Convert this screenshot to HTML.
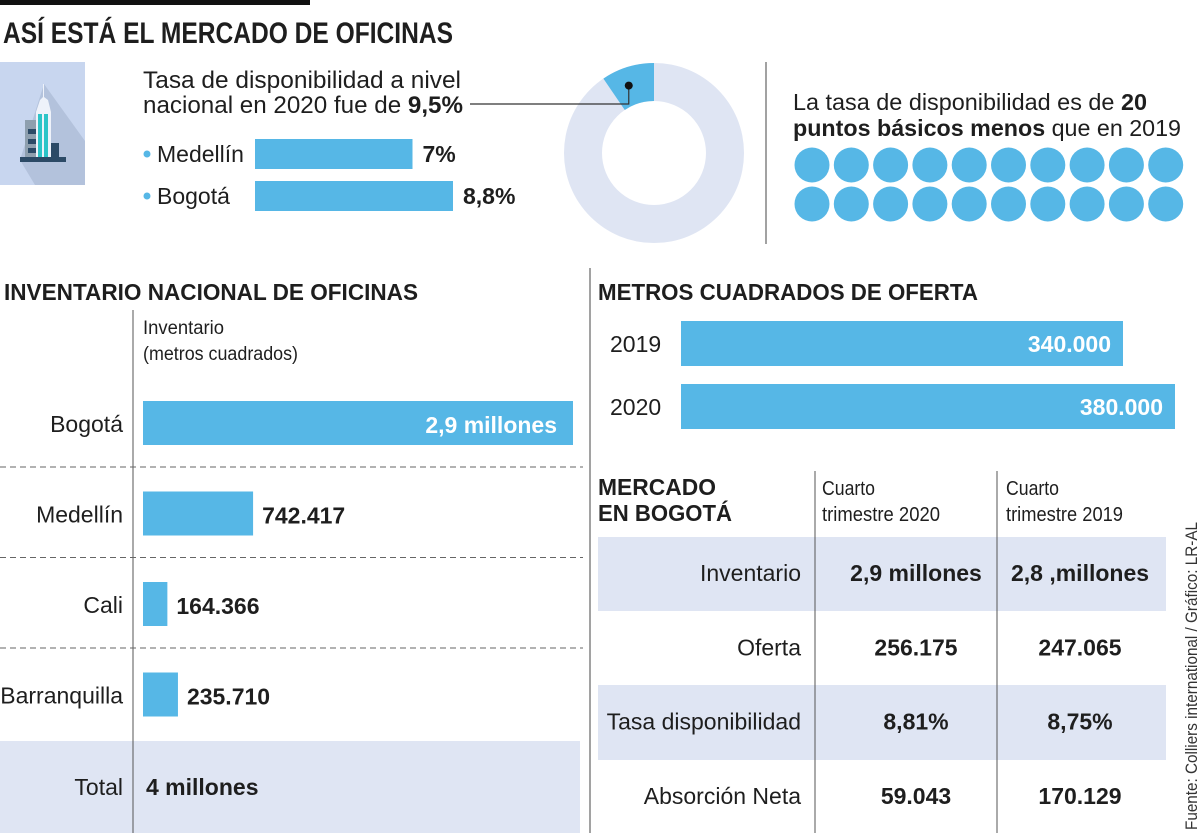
<!DOCTYPE html>
<html><head><meta charset="utf-8">
<style>
html,body{margin:0;padding:0;background:#fff;}
svg{display:block;}
text{font-family:"Liberation Sans Narrow","Liberation Sans",sans-serif;fill:#1e1e1e;}
.b{font-weight:bold;}
.l{font-family:"Liberation Sans","DejaVu Sans",sans-serif;}
</style></head>
<body>
<svg id="chart" width="1200" height="833" viewBox="0 0 1200 833" xmlns="http://www.w3.org/2000/svg">
<rect x="0" y="0" width="310" height="5" fill="#111"/>
<text x="3" y="43" font-size="30" class="b" textLength="450" lengthAdjust="spacingAndGlyphs">ASÍ ESTÁ EL MERCADO DE OFICINAS</text>

<g>
<rect x="0" y="62" width="85" height="123" fill="#c8d6ef"/>
<polygon points="44,84 85,141 85,185 35,185 20,160" fill="#b3c2dc"/>
<rect x="25" y="120" width="12" height="37" fill="#8e9fae"/>
<rect x="28" y="129" width="9" height="5" fill="#2c4a66"/>
<rect x="28" y="139" width="9" height="5" fill="#2c4a66"/>
<rect x="28" y="148" width="9" height="5" fill="#2c4a66"/>
<rect x="50" y="143" width="9" height="14" fill="#2c4a66"/>
<polygon points="36,112 40,100 43,97 43,84 44,84 44,97 48,100 51,112" fill="#eef2fa"/>
<rect x="36" y="112" width="15" height="45" fill="#eef2fa"/>
<rect x="38" y="114" width="4" height="43" fill="#2cc4c8"/>
<rect x="44" y="114" width="4" height="43" fill="#2cc4c8"/>
<rect x="20" y="157" width="46" height="5" fill="#2c4a66"/>
</g>

<text x="143" y="88" font-size="24" textLength="318" lengthAdjust="spacingAndGlyphs">Tasa de disponibilidad a nivel</text>
<text x="143" y="113" font-size="24" textLength="320" lengthAdjust="spacingAndGlyphs">nacional en 2020 fue de <tspan class="b">9,5%</tspan></text>
<g id="cityRates"></g>

<g id="donut"></g>
<line x1="766" y1="62" x2="766" y2="244" stroke="#444" stroke-width="1"/>
<text x="793" y="110" font-size="23" textLength="354" lengthAdjust="spacingAndGlyphs">La tasa de disponibilidad es de <tspan class="b">20</tspan></text>
<text x="793" y="136" font-size="23" textLength="388" lengthAdjust="spacingAndGlyphs"><tspan class="b">puntos básicos menos</tspan> que en 2019</text>
<g id="dots"></g>

<text x="4" y="300" font-size="23" class="b" textLength="414" lengthAdjust="spacingAndGlyphs">INVENTARIO NACIONAL DE OFICINAS</text>
<rect x="0" y="741" width="580" height="92" fill="#dfe5f3"/>
<line x1="133" y1="310" x2="133" y2="833" stroke="#555" stroke-width="1"/>
<text x="143" y="334" font-size="19" textLength="81" lengthAdjust="spacingAndGlyphs">Inventario</text>
<text x="143" y="360" font-size="19" textLength="155" lengthAdjust="spacingAndGlyphs">(metros cuadrados)</text>
<g id="inv"></g>
<text x="123" y="795" font-size="23" text-anchor="end">Total</text>
<text x="146" y="795" font-size="23" class="b">4 millones</text>

<line x1="590" y1="268" x2="590" y2="833" stroke="#444" stroke-width="1"/>
<text x="598" y="300" font-size="23" class="b" textLength="380" lengthAdjust="spacingAndGlyphs">METROS CUADRADOS DE OFERTA</text>
<g id="offer"></g>

<g>
<rect x="598" y="537" width="568" height="74" fill="#dfe5f3"/>
<rect x="598" y="685" width="568" height="75" fill="#dfe5f3"/>
<line x1="815" y1="471" x2="815" y2="833" stroke="#555"/>
<line x1="997" y1="471" x2="997" y2="833" stroke="#555"/>
<text x="598" y="495" font-size="23" class="b" textLength="118" lengthAdjust="spacingAndGlyphs">MERCADO</text>
<text x="598" y="521" font-size="23" class="b" textLength="134" lengthAdjust="spacingAndGlyphs">EN BOGOTÁ</text>
<text x="822" y="495" font-size="20" textLength="53" lengthAdjust="spacingAndGlyphs">Cuarto</text>
<text x="822" y="521" font-size="20" textLength="118" lengthAdjust="spacingAndGlyphs">trimestre 2020</text>
<text x="1006" y="495" font-size="20" textLength="53" lengthAdjust="spacingAndGlyphs">Cuarto</text>
<text x="1006" y="521" font-size="20" textLength="117" lengthAdjust="spacingAndGlyphs">trimestre 2019</text>
<g id="tbl"></g>
</g>
<text transform="translate(1197,830) rotate(-90)" font-size="17" class="l" textLength="308" lengthAdjust="spacingAndGlyphs" style="fill:#333">Fuente: Colliers international / Gráfico: LR-AL</text>
</svg>
<script>
const NS="http://www.w3.org/2000/svg";
const cityNames=["Medellín","Bogotá"];
const cityRates=[7,8.8];
const cityRateLabels=["7%","8,8%"];
const nationalRate=9.5;
const basisPoints=20;
const invCities=["Bogotá","Medellín","Cali","Barranquilla"];
const invValues=[2900000,742417,164366,235710];
const invLabels=["2,9 millones","742.417","164.366","235.710"];
const offerYears=["2019","2020"];
const offerValues=[340000,380000];
const offerLabels=["340.000","380.000"];
const tblRows=["Inventario","Oferta","Tasa disponibilidad","Absorción Neta"];
const tbl2020=["2,9 millones","256.175","8,81%","59.043"];
const tbl2019=["2,8 ,millones","247.065","8,75%","170.129"];

function mk(tag,attrs,parent,txt){const e=document.createElementNS(NS,tag);for(const k in attrs)e.setAttribute(k,attrs[k]);if(txt!==undefined)e.textContent=txt;parent.appendChild(e);return e;}
const BLUE="#56b7e6";

const cr=document.getElementById('cityRates');
const xRate=v=>v*22.5;
cityNames.forEach((n,i)=>{
  const y=139+i*42;
  const d=mk('circle',{cx:147,cy:y+15,r:3.5,fill:BLUE},cr);
  
  
  const t=mk('text',{x:157,y:y+23,'font-size':23},cr,n);
  
  
  const w=xRate(cityRates[i]);
  const r=mk('rect',{x:255,y:y,width:w,height:30,fill:BLUE},cr);
  
  
  const v=mk('text',{x:255+w+10,y:y+23,'font-size':23,class:'b'},cr,cityRateLabels[i]);
  
  
});

const dn=document.getElementById('donut');
const cx=654,cy=153,R=90,r0=52;
const bg=mk('path',{d:`M${cx-R},${cy}a${R},${R} 0 1,0 ${2*R},0a${R},${R} 0 1,0 ${-2*R},0M${cx-r0},${cy}a${r0},${r0} 0 1,1 ${2*r0},0a${r0},${r0} 0 1,1 ${-2*r0},0Z`,fill:'#dfe5f3','fill-rule':'evenodd'},dn);


const ang=nationalRate/100*2*Math.PI;
const px=(rr,a)=>cx-rr*Math.sin(a), py=(rr,a)=>cy-rr*Math.cos(a);
const sl=mk('path',{d:`M${cx},${cy-R}A${R},${R} 0 0,0 ${px(R,ang)},${py(R,ang)}L${px(r0,ang)},${py(r0,ang)}A${r0},${r0} 0 0,1 ${cx},${cy-r0}Z`,fill:BLUE},dn);


const da=ang*0.6, dx=px(R*0.8,da), dy=py(R*0.8,da);
const ln=mk('polyline',{points:`470,104 ${dx},104 ${dx},${dy}`,fill:'none',stroke:'#333','stroke-width':1.2},dn);


const dt=mk('circle',{cx:dx,cy:dy,r:4,fill:'#111'},dn);



const ds=document.getElementById('dots');
for(let i=0;i<basisPoints;i++){
  const c=mk('circle',{cx:812+(i%10)*39.3,cy:165+Math.floor(i/10)*39,r:17.5,fill:BLUE},ds);
  
  
}

const inv=document.getElementById('inv');
const xInv=v=>v/2900000*430;
invCities.forEach((n,i)=>{
  const yc=423+i*90.5;
  const t=mk('text',{x:123,y:yc+9,'font-size':23,'text-anchor':'end'},inv,n);
  
  
  const w=xInv(invValues[i]);
  const r=mk('rect',{x:143,y:yc-22,width:w,height:44,fill:BLUE},inv);
  
  
  const inside=w>200;
  const v=mk('text',{x:inside?143+w-16:143+w+9,y:yc+10,'font-size':23,class:'b','text-anchor':inside?'end':'start'},inv,invLabels[i]);
  if(inside)v.style.fill='#fff';
  
  
  if(i<invCities.length-1){
    const dl=mk('line',{x1:0,x2:583,y1:yc+44,y2:yc+44,stroke:'#666','stroke-dasharray':'6,4'},inv);
    
    
  }
});

const of=document.getElementById('offer');
const xOf=v=>v*0.0013;
offerYears.forEach((yr,i)=>{
  const y=321+i*63;
  const t=mk('text',{x:610,y:y+31,'font-size':23},of,yr);
  
  
  const w=xOf(offerValues[i]);
  const r=mk('rect',{x:681,y:y,width:w,height:45,fill:BLUE},of);
  
  
  const v=mk('text',{x:681+w-12,y:y+31,'font-size':23,class:'b','text-anchor':'end'},of,offerLabels[i]);
  v.style.fill='#fff';
  
  
});

const tb=document.getElementById('tbl');
tblRows.forEach((n,i)=>{
  const y=581+i*74.3;
  const a=mk('text',{x:801,y:y,'font-size':23,'text-anchor':'end'},tb,n);
  
  
  const b=mk('text',{x:916,y:y,'font-size':23,class:'b','text-anchor':'middle'},tb,tbl2020[i]);
  
  
  const c=mk('text',{x:1080,y:y,'font-size':23,class:'b','text-anchor':'middle'},tb,tbl2019[i]);
  
  
});
</script>
</body></html>
